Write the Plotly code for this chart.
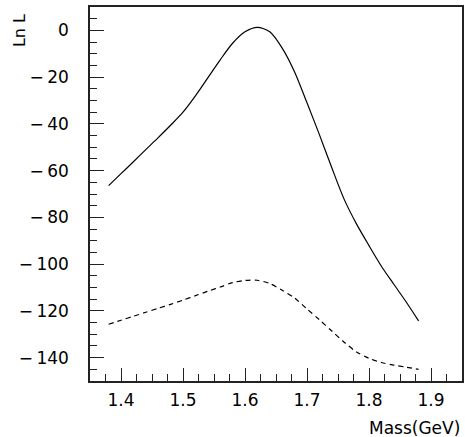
import plotly.graph_objects as go

# Solid curve (Ln L vs mass)
mass_solid = [1.38, 1.40, 1.42, 1.44, 1.46, 1.48, 1.50, 1.52, 1.54, 1.56, 1.58,
              1.60, 1.62, 1.64, 1.66, 1.68, 1.70, 1.72, 1.74, 1.76, 1.78, 1.80,
              1.82, 1.84, 1.86, 1.88]
lnl_solid = [-66.4, -61.3, -56.2, -51.0, -45.9, -40.6, -35.0, -28.0, -20.3, -12.6, -5.5,
             -0.6, 1.3, -0.6, -7.6, -17.8, -31.0, -44.6, -58.8, -72.3, -82.9, -92.1,
             -100.9, -108.6, -116.2, -124.3]

# Dashed curve
mass_dash = [1.38, 1.40, 1.42, 1.44, 1.46, 1.48, 1.50, 1.52, 1.54, 1.56, 1.58,
             1.60, 1.62, 1.64, 1.66, 1.68, 1.70, 1.72, 1.74, 1.76, 1.78, 1.80,
             1.82, 1.84, 1.86, 1.88]
lnl_dash = [-125.7, -124.0, -122.3, -120.6, -118.9, -117.2, -115.4, -113.5, -111.6,
            -109.8, -107.9, -107.0, -106.9, -108.3, -111.2, -114.5, -119.2, -123.8,
            -128.6, -133.4, -137.6, -140.3, -142.1, -143.2, -144.1, -145.0]

y_tick_vals = [0, -20, -40, -60, -80, -100, -120, -140]
y_tick_text = ["0", "\u2212\u200920", "\u2212\u200940", "\u2212\u200960", "\u2212\u200980",
               "\u2212\u2009100", "\u2212\u2009120", "\u2212\u2009140"]
x_tick_vals = [1.4, 1.5, 1.6, 1.7, 1.8, 1.9]
x_tick_text = ["1.4", "1.5", "1.6", "1.7", "1.8", "1.9"]

x_range = [1.35, 1.95]
y_range = [-150, 10]

fig = go.Figure()
fig.add_trace(go.Scatter(x=mass_solid, y=lnl_solid, mode="lines",
                         line=dict(color="black", width=1.2, shape="spline", smoothing=0.8),
                         showlegend=False, hoverinfo="skip"))
fig.add_trace(go.Scatter(x=mass_dash, y=lnl_dash, mode="lines",
                         line=dict(color="black", width=1.2, dash="5px,4px", shape="spline", smoothing=0.8),
                         showlegend=False, hoverinfo="skip"))

font = dict(family="DejaVu Sans", size=17, color="black")

fig.update_layout(
    width=465, height=437,
    margin=dict(l=90, r=1, t=7, b=56),
    paper_bgcolor="white", plot_bgcolor="white",
    font=font,
    xaxis=dict(range=x_range, showgrid=False, zeroline=False,
               showline=True, linecolor="#222", linewidth=1.5, mirror=True,
               ticks="inside", ticklen=13, tickwidth=1, tickcolor="#222",
               tickmode="array", tickvals=x_tick_vals, ticktext=x_tick_text,
               ticklabelstandoff=3, tickfont=font,
               minor=dict(tickmode="linear", ticks="inside", ticklen=7, tickwidth=1,
                          tickcolor="#222", tick0=1.35, dtick=0.025)),
    yaxis=dict(range=y_range, showgrid=False, zeroline=False,
               showline=True, linecolor="#222", linewidth=1.5, mirror=True,
               ticks="inside", ticklen=14, tickwidth=1, tickcolor="#222",
               tickmode="array", tickvals=y_tick_vals, ticktext=y_tick_text,
               ticklabelstandoff=16, tickfont=font,
               minor=dict(tickmode="linear", ticks="inside", ticklen=7, tickwidth=1,
                          tickcolor="#222", tick0=0, dtick=5)),
    annotations=[
        dict(text="Mass(GeV)", xref="paper", yref="paper", x=1.0, y=0,
             xanchor="right", yanchor="top", yshift=-35, showarrow=False,
             font=dict(family="DejaVu Sans", size=17, color="black")),
        dict(text="Ln L", xref="paper", yref="paper", x=-0.19, y=0.986,
             xanchor="center", yanchor="top", textangle=-90, showarrow=False,
             font=dict(family="DejaVu Sans", size=16, color="black")),
    ],
)

fig.write_html("out.html")
